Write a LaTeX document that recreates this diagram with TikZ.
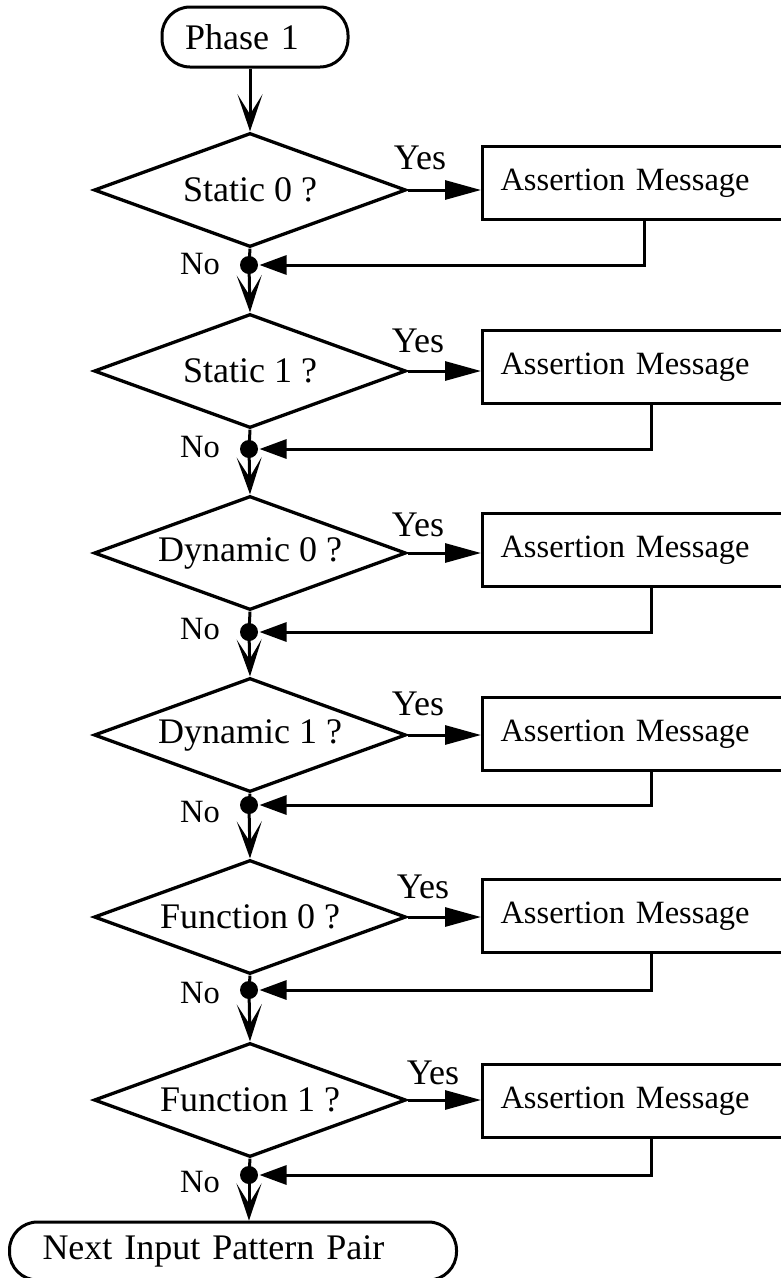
\documentclass[tikz,border=0pt]{standalone}
\usepackage{fontspec}
\setmainfont{Liberation Serif}
\usetikzlibrary{shapes.geometric,arrows.meta}

\begin{document}
\begin{tikzpicture}[x=1pt,y=-1pt,
  line width=3pt,
  every node/.style={font=\fontsize{36}{40}\selectfont},
  test/.style={draw, diamond, aspect=2.74, inner sep=0pt,
    minimum width=312pt, minimum height=114pt, line width=3.3pt},
  msgbox/.style={draw, rectangle, anchor=north west, minimum height=73pt,
    text width=304pt, inner xsep=18pt, align=left,
    font=\fontsize{32.5}{36}\selectfont},
  terminal/.style={draw, rectangle, rounded corners=28pt, align=left},
  junction/.style={circle, fill, inner sep=0pt, minimum size=18pt},
  down/.style={-{Stealth[length=37pt,width=25pt,inset=20pt]}},
  yesarrow/.style={-{Triangle[length=36pt,width=19pt]}},
  backarrow/.style={-{Triangle[length=27pt,width=19pt]}},
  lbl/.style={inner sep=0pt},
  nolbl/.style={inner sep=0pt, font=\fontsize{32.5}{36}\selectfont}
]
\useasboundingbox (0,0) rectangle (781,1278);
\clip (0,0) rectangle (781,1278);

% start and end terminals
\node[terminal, inner xsep=23pt, text width=140pt, minimum height=60pt] (start) at (255,37) {Phase 1};
\node[terminal, inner xsep=33pt, text width=381pt, minimum height=58pt] (finish) at (233,1251) {Next Input Pattern Pair};

% one row per test: decision, message box, merge point
\foreach \i/\cy/\bt/\dy/\ny/\yx/\yy/\rs/\txt in {
  1/190/145/265/264/420/158/-8/Static 0 ?,
  2/371/329/449/447/418/341/-1/Static 1 ?,
  3/553/512/632/629/418/525/-1/Dynamic 0 ?,
  4/735/696/805/812/418/704/-1/Dynamic 1 ?,
  5/917/878/990/993/423/887/-1/Function 0 ?,
  6/1100/1063/1175/1182/433/1073/-1/Function 1 ?}{
  \node[test] (d\i) at (250,\cy) {\txt};
  \node[msgbox] (m\i) at (481,\bt) {Assertion Message};
  \node[junction] (j\i) at (249,\dy) {};
  \draw[yesarrow] (d\i.east) -- (m\i.west |- d\i.east);
  \draw[backarrow] ([xshift=\rs pt]m\i.south) |- (j\i.east);
  \draw (d\i.south) -- (j\i.center);
  \node[lbl] at (\yx,\yy) {Yes};
  \node[nolbl] at (200,\ny) {No};
}

% vertical flow
\draw[down] (d1.north |- start.south) -- (d1.north);
\foreach \i/\n in {1/2,2/3,3/4,4/5,5/6}{
  \draw[down] (j\i.center) -- (d\n.north);
}
\draw[down] (j6.center) -- (j6.center |- finish.north);
\end{tikzpicture}
\end{document}
